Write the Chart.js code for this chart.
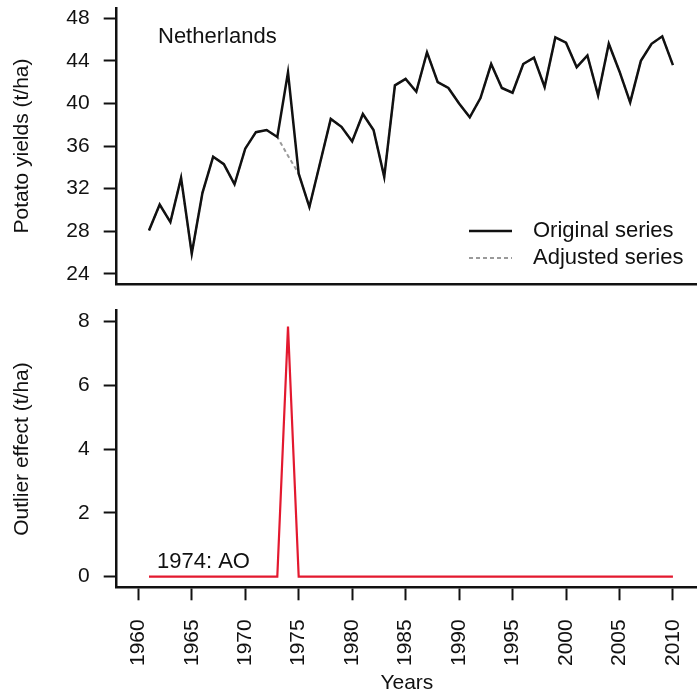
<!DOCTYPE html>
<html>
<head>
<meta charset="utf-8">
<script src="https://cdn.jsdelivr.net/npm/chart.js@4"></script>
<style>
  html, body { margin: 0; padding: 0; background: #ffffff; }
  #wrap { position: relative; width: 697px; height: 696px; }
  #top { position: absolute; left: 0; top: 0; }
  #bot { position: absolute; left: 0; top: 300px; }
</style>
</head>
<body>
<div id="wrap">
  <canvas id="top" width="697" height="300"></canvas>
  <canvas id="bot" width="697" height="396"></canvas>
</div>
<script>
const years = [1961,1962,1963,1964,1965,1966,1967,1968,1969,1970,
  1971,1972,1973,1974,1975,1976,1977,1978,1979,1980,
  1981,1982,1983,1984,1985,1986,1987,1988,1989,1990,
  1991,1992,1993,1994,1995,1996,1997,1998,1999,2000,
  2001,2002,2003,2004,2005,2006,2007,2008,2009,2010];

const originalSeries = [28.07,30.5,28.86,33.0,25.9,31.6,35.0,34.3,32.4,35.75,
  37.3,37.5,36.85,42.92,33.4,30.27,34.4,38.54,37.8,36.43,
  39.0,37.5,33.1,41.7,42.3,41.1,44.8,42.0,41.45,40.0,
  38.7,40.5,43.7,41.45,41.0,43.7,44.3,41.55,46.2,45.7,
  43.4,44.5,40.75,45.6,43.0,40.1,44.0,45.6,46.3,43.6];

const adjustedSeries = [28.07,30.5,28.86,33.0,25.9,31.6,35.0,34.3,32.4,35.75,
  37.3,37.5,36.85,35.08,33.4,30.27,34.4,38.54,37.8,36.43,
  39.0,37.5,33.1,41.7,42.3,41.1,44.8,42.0,41.45,40.0,
  38.7,40.5,43.7,41.45,41.0,43.7,44.3,41.55,46.2,45.7,
  43.4,44.5,40.75,45.6,43.0,40.1,44.0,45.6,46.3,43.6];

const outlierEffect = [0,0,0,0,0,0,0,0,0,0,
  0,0,0,7.84,0,0,0,0,0,0,
  0,0,0,0,0,0,0,0,0,0,
  0,0,0,0,0,0,0,0,0,0,
  0,0,0,0,0,0,0,0,0,0];

const yieldTicks = [24,28,32,36,40,44,48];
const effectTicks = [0,2,4,6,8];
const yearTicks = [1960,1965,1970,1975,1980,1985,1990,1995,2000,2005,2010];

const countryLabel = 'Netherlands';
const outlierLabel = '1974: AO';
const legendLabels = ['Original series', 'Adjusted series'];

const FONT = "'Liberation Sans', Arial, sans-serif";
const pts = arr => years.map((y, i) => ({x: y, y: arr[i]}));
const setTicks = list => (scale) => { scale.ticks = list.map(v => ({value: v})); };
const zeroPad = (w, h) => (scale) => {
  if (w !== null) scale.width = w;
  if (h !== null) scale.height = h;
  scale.paddingTop = 0; scale.paddingBottom = 0;
  scale.paddingLeft = 0; scale.paddingRight = 0;
};

const XMIN = 1957.98, XMAX = 2012.25;

const textPlugin = {
  id: 'freeText',
  afterDraw(chart, args, opts) {
    const ctx = chart.ctx;
    ctx.save();
    (opts.items || []).forEach(it => {
      if (it.line) {
        ctx.beginPath();
        ctx.strokeStyle = it.line.color;
        ctx.lineWidth = it.line.width;
        ctx.setLineDash(it.line.dash || []);
        ctx.moveTo(it.line.x1, it.y);
        ctx.lineTo(it.line.x2, it.y);
        ctx.stroke();
        ctx.setLineDash([]);
      }
      ctx.fillStyle = '#111';
      ctx.font = it.size + 'px ' + FONT;
      ctx.textAlign = 'left';
      ctx.textBaseline = 'middle';
      ctx.fillText(it.text, it.x, it.y);
    });
    ctx.restore();
  }
};

const yAxisCommon = (title, ticks, min, max) => ({
  type: 'linear', position: 'left', min: min, max: max,
  afterBuildTicks: setTicks(ticks),
  afterFit: zeroPad(116.7, null),
  grid: { drawOnChartArea: false, drawTicks: true, tickLength: 13, tickWidth: 2, tickColor: '#111' },
  border: { display: true, color: '#111', width: 2.5 },
  ticks: { color: '#111', padding: 14, font: { family: FONT, size: 21 } },
  title: { display: true, text: title, color: '#111', font: { family: FONT, size: 21 }, padding: { top: 10, bottom: 0 } }
});

new Chart(document.getElementById('top'), {
  type: 'line',
  data: {
    datasets: [
      { label: legendLabels[0], data: pts(originalSeries), borderColor: '#111', borderWidth: 2.5, pointRadius: 0, tension: 0, fill: false, order: 1 },
      { label: legendLabels[1], data: pts(adjustedSeries), borderColor: '#9a9a9a', borderWidth: 2, borderDash: [4, 3], pointRadius: 0, tension: 0, fill: false, order: 2 }
    ]
  },
  options: {
    responsive: false, animation: false, devicePixelRatio: 1,
    layout: { padding: { top: 8, left: 0, right: 0, bottom: 0 }, autoPadding: false },
    plugins: {
      legend: { display: false }, tooltip: { enabled: false },
      freeText: { items: [
        { text: countryLabel, x: 158, y: 37, size: 22 },
        { text: legendLabels[0], x: 533, y: 231, size: 22, line: { x1: 469, x2: 512, color: '#111', width: 2.5 } },
        { text: legendLabels[1], x: 533, y: 258, size: 22, line: { x1: 469, x2: 512, color: '#9a9a9a', width: 1.8, dash: [4, 3] } }
      ] }
    },
    scales: {
      x: {
        type: 'linear', position: 'bottom', min: XMIN, max: XMAX,
        afterBuildTicks: setTicks(yearTicks),
        afterFit: zeroPad(null, 16),
        grid: { display: false, drawTicks: false },
        border: { display: true, color: '#111', width: 2.5 },
        ticks: { display: false }
      },
      y: yAxisCommon('Potato yields (t/ha)', yieldTicks, 23.04, 48.96)
    }
  },
  plugins: [textPlugin]
});

new Chart(document.getElementById('bot'), {
  type: 'line',
  data: {
    datasets: [
      { label: 'Outlier effect', data: pts(outlierEffect), borderColor: '#e3192f', borderWidth: 2.2, pointRadius: 0, tension: 0, fill: false }
    ]
  },
  options: {
    responsive: false, animation: false, devicePixelRatio: 1,
    layout: { padding: { top: 10.7, left: 0, right: 0, bottom: 0 }, autoPadding: false },
    plugins: {
      legend: { display: false }, tooltip: { enabled: false },
      freeText: { items: [
        { text: outlierLabel, x: 157, y: 262, size: 22 }
      ] }
    },
    scales: {
      x: {
        type: 'linear', position: 'bottom', min: XMIN, max: XMAX,
        afterBuildTicks: setTicks(yearTicks),
        afterFit: zeroPad(null, 108.7),
        grid: { drawOnChartArea: false, drawTicks: true, tickLength: 13, tickWidth: 2, tickColor: '#111' },
        border: { display: true, color: '#111', width: 2.5 },
        ticks: { color: '#111', padding: 19, minRotation: 90, maxRotation: 90, autoSkip: false, font: { family: FONT, size: 21 }, callback: v => String(v) },
        title: { display: true, text: 'Years', color: '#111', font: { family: FONT, size: 21 }, padding: { top: 0, bottom: 0.4 } }
      },
      y: yAxisCommon('Outlier effect (t/ha)', effectTicks, -0.333, 8.333)
    }
  },
  plugins: [textPlugin]
});
</script>
</body>
</html>
